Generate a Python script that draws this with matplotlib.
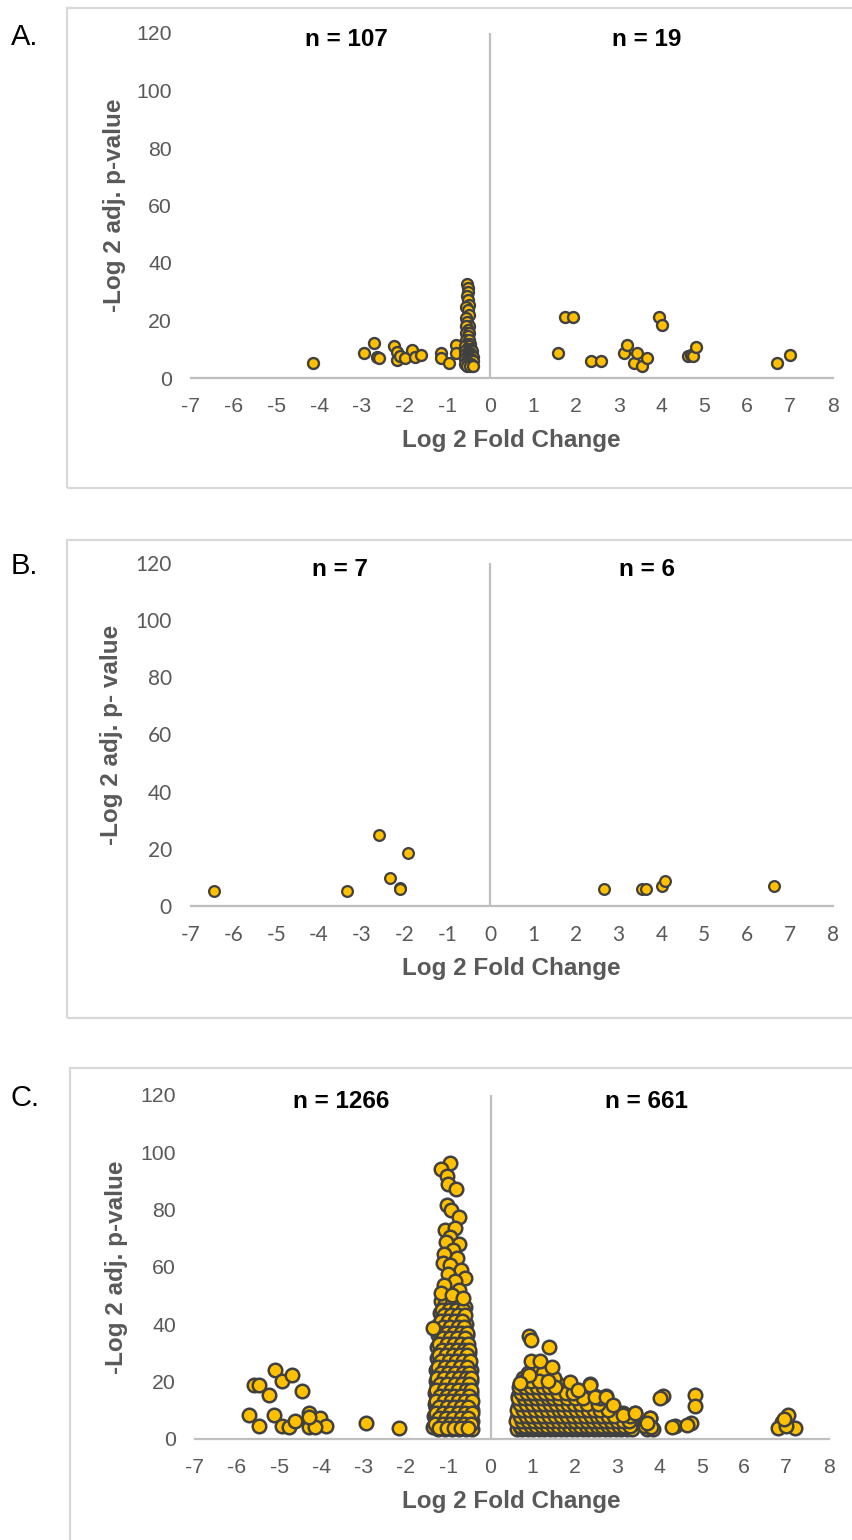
import matplotlib
matplotlib.use('Agg')
import matplotlib.pyplot as plt
from matplotlib.patches import Rectangle

plt.rcParams['font.family'] = ['Liberation Sans', 'DejaVu Sans']
plt.rcParams['axes.unicode_minus'] = False

W, H, DPI = 852, 1540, 100
FILL = '#FFC000'
EDGE = '#404040'
AXC = '#BFBFBF'
TXT = '#595959'
BOX = '#D9D9D9'

x_ticks = list(range(-7, 9))
y_ticks = [0, 20, 40, 60, 80, 100, 120]
x_label = 'Log 2 Fold Change'
y_labels = ['-Log 2 adj. p-value', '-Log 2 adj. p- value', '-Log 2 adj. p-value']
n_labels = [('n = 107', 'n = 19'), ('n = 7', 'n = 6'), ('n = 1266', 'n = 661')]
panel_letters = ['A.', 'B.', 'C.']

# ---------------- Panel A data ----------------
a_neg_scatter = [(-4.15, 5.1), (-2.95, 8.8), (-2.71, 12.3), (-2.65, 7.2), (-2.6, 7.1),
                 (-2.24, 11.2), (-2.18, 9.2), (-2.18, 6.3), (-2.1, 7.5), (-2.0, 7.1),
                 (-1.82, 9.7), (-1.75, 7.2), (-1.61, 7.9), (-1.16, 8.8), (-1.16, 7.0),
                 (-0.97, 5.1), (-0.8, 11.4), (-0.8, 8.8)]
a_col_rows_y = [32.6, 31.2, 29.8, 28.5, 27.0, 25.5, 24.8, 23.5, 22.0, 21.0, 19.4, 18.0,
                16.8, 15.8, 14.5, 13.2, 12.0, 11.0, 10.0, 9.3, 8.8, 8.0, 7.2, 6.5, 5.8,
                5.0, 4.3]
a_col_rows_x = [[-0.55], [-0.53], [-0.51], [-0.55], [-0.52], [-0.5], [-0.57], [-0.53],
                [-0.5], [-0.56], [-0.54], [-0.5, -0.57], [-0.53], [-0.56, -0.5], [-0.53],
                [-0.57, -0.5], [-0.54, -0.47], [-0.58, -0.5], [-0.55, -0.46],
                [-0.58, -0.5, -0.43], [-0.55, -0.47], [-0.58, -0.52, -0.44],
                [-0.55, -0.48, -0.41], [-0.58, -0.51, -0.44], [-0.55, -0.47, -0.41],
                [-0.58, -0.51, -0.44], [-0.55, -0.48, -0.41]]
a_pos = [(1.575, 8.8), (1.75, 21.1), (1.93, 21.1), (2.35, 6.0), (2.59, 6.0), (3.12, 8.8),
         (3.19, 11.5), (3.35, 5.3), (3.43, 8.8), (3.55, 4.2), (3.66, 7.0), (3.95, 21.3),
         (4.02, 18.3), (4.61, 7.8), (4.7, 8.0), (4.74, 7.8), (4.8, 10.7), (6.7, 5.3),
         (7.0, 8.0)]

# ---------------- Panel B data ----------------
b_neg = [(-6.46, 5.2), (-3.35, 5.2), (-2.59, 24.8), (-1.93, 18.7), (-2.35, 9.7),
         (-2.1, 6.2), (-2.12, 6.0)]
b_pos = [(2.65, 5.9), (3.55, 5.9), (3.63, 5.9), (4.01, 7.0), (4.09, 8.9), (6.64, 7.0)]

# ---------------- Panel C data ----------------
c_neg_far = [(-5.6, 18.7), (-5.47, 18.7), (-5.71, 8.2), (-5.47, 4.4), (-5.24, 15.2),
             (-5.1, 24.0), (-4.94, 20.2), (-4.71, 22.2), (-4.45, 16.7), (-5.12, 8.2),
             (-4.94, 4.4), (-4.76, 4.1), (-4.63, 6.2), (-4.29, 9.0), (-4.27, 6.5),
             (-4.29, 3.9), (-4.04, 7.0), (-3.89, 4.4), (-4.15, 4.1), (-4.29, 7.6),
             (-2.95, 5.3), (-2.16, 3.6)]
c_neg_top = [(-0.96, 96.3), (-1.16, 94.2), (-1.04, 91.6), (-1.0, 89.0), (-0.82, 87.2),
             (-1.04, 81.7), (-0.93, 80.0), (-0.74, 77.4), (-1.08, 73.0), (-0.85, 73.5),
             (-0.95, 70.5), (-0.74, 68.0), (-1.05, 68.5), (-0.88, 66.0), (-1.1, 64.5),
             (-0.8, 63.0), (-1.12, 61.3), (-0.95, 60.5), (-0.7, 59.0), (-1.0, 57.5),
             (-0.6, 56.0), (-0.85, 55.0), (-1.1, 53.5), (-0.75, 52.0), (-1.16, 50.8),
             (-0.9, 50.0), (-0.65, 49.0), (-1.35, 38.5)]
c_col_rows_y = [48, 46, 44, 42, 40, 38, 36, 34, 32, 30, 28, 26, 24, 22, 20, 18, 16, 14,
                12, 10, 8, 6, 4, 3.2]
c_col_rows_x = [[-1.18, -1.0, -0.83, -0.68], [-1.1, -0.92, -0.75, -0.6],
                [-1.2, -1.03, -0.86, -0.7], [-1.14, -0.96, -0.78, -0.62],
                [-1.22, -1.05, -0.88, -0.7, -0.58], [-1.15, -0.97, -0.8, -0.63],
                [-1.24, -1.06, -0.89, -0.72, -0.56], [-1.17, -1.0, -0.83, -0.65],
                [-1.26, -1.08, -0.91, -0.74, -0.57], [-1.19, -1.02, -0.85, -0.68, -0.52],
                [-1.27, -1.1, -0.93, -0.76, -0.59], [-1.2, -1.03, -0.86, -0.69, -0.52],
                [-1.28, -1.11, -0.94, -0.77, -0.6, -0.47], [-1.22, -1.05, -0.88, -0.71, -0.54],
                [-1.3, -1.13, -0.96, -0.79, -0.62, -0.46], [-1.23, -1.06, -0.89, -0.72, -0.55],
                [-1.31, -1.14, -0.97, -0.8, -0.63, -0.46], [-1.24, -1.07, -0.9, -0.73, -0.56],
                [-1.32, -1.15, -0.98, -0.81, -0.64, -0.47], [-1.25, -1.08, -0.91, -0.74, -0.57, -0.44],
                [-1.33, -1.16, -0.99, -0.82, -0.65, -0.48], [-1.27, -1.1, -0.93, -0.76, -0.59, -0.44],
                [-1.35, -1.18, -1.01, -0.84, -0.67, -0.5], [-1.25, -1.08, -0.91, -0.74, -0.57, -0.43]]
c_col2_rows_y = [47, 45, 43, 41, 39, 37, 35, 33, 31, 29, 27, 25, 23, 21, 19, 17, 15, 13,
                 11, 9, 7, 5, 3.6]
c_col2_rows_x = [[-1.08, -0.9, -0.73], [-1.15, -0.98, -0.82, -0.66],
                 [-1.1, -0.93, -0.76, -0.61], [-1.18, -1.0, -0.84, -0.67],
                 [-1.12, -0.95, -0.78, -0.62], [-1.2, -1.02, -0.86, -0.69, -0.55],
                 [-1.13, -0.95, -0.79, -0.61], [-1.22, -1.04, -0.87, -0.7, -0.54],
                 [-1.15, -0.97, -0.8, -0.63, -0.5], [-1.23, -1.06, -0.89, -0.72, -0.55],
                 [-1.16, -0.99, -0.82, -0.64, -0.49], [-1.25, -1.07, -0.9, -0.73, -0.56],
                 [-1.18, -1.0, -0.83, -0.66, -0.5], [-1.27, -1.09, -0.92, -0.75, -0.58, -0.45],
                 [-1.19, -1.02, -0.85, -0.68, -0.51], [-1.28, -1.1, -0.93, -0.76, -0.59, -0.45],
                 [-1.2, -1.03, -0.86, -0.69, -0.52], [-1.29, -1.11, -0.94, -0.77, -0.6, -0.44],
                 [-1.21, -1.04, -0.87, -0.7, -0.53], [-1.3, -1.12, -0.95, -0.78, -0.61, -0.44],
                 [-1.22, -1.05, -0.88, -0.71, -0.54], [-1.31, -1.13, -0.96, -0.79, -0.62, -0.45],
                 [-1.21, -1.04, -0.87, -0.7, -0.53]]
c_col3_rows_y = [38.5, 34.5, 30.5, 26.5, 22.5, 18.5, 14.5, 10.5, 6.5, 4.6]
c_col3_rows_x = [[-1.05, -0.92, -0.8, -0.68],
                 [-1.1, -0.98, -0.86, -0.74, -0.6],
                 [-1.2, -1.1, -0.98, -0.86, -0.74, -0.6],
                 [-1.22, -1.1, -0.98, -0.86, -0.74, -0.62, -0.5],
                 [-1.24, -1.12, -1.0, -0.88, -0.76, -0.64, -0.52],
                 [-1.26, -1.14, -1.02, -0.9, -0.78, -0.66, -0.54],
                 [-1.27, -1.15, -1.03, -0.91, -0.79, -0.67, -0.55, -0.46],
                 [-1.28, -1.16, -1.04, -0.92, -0.8, -0.68, -0.56, -0.46],
                 [-1.3, -1.18, -1.06, -0.94, -0.82, -0.7, -0.58, -0.47],
                 [-1.22, -1.1, -0.98, -0.86, -0.74, -0.62, -0.5]]
c_blob_rows_y = [3.3, 5, 7, 9, 11, 13, 15, 17, 19, 21, 23]
c_blob_rows_x = [
    [0.62, 0.75, 0.88, 1.01, 1.14, 1.27, 1.4, 1.53, 1.66, 1.79, 1.92, 2.05, 2.18, 2.31, 2.44,
     2.57, 2.7, 2.83, 2.96, 3.09, 3.22, 3.35, 3.7, 3.85],
    [0.68, 0.82, 0.96, 1.1, 1.24, 1.38, 1.52, 1.66, 1.8, 1.94, 2.08, 2.22, 2.36, 2.5, 2.64,
     2.78, 2.92, 3.06, 3.2, 3.34, 3.66],
    [0.62, 0.76, 0.9, 1.04, 1.18, 1.32, 1.46, 1.6, 1.74, 1.88, 2.02, 2.16, 2.3, 2.44, 2.58,
     2.72, 2.86, 3.0, 3.2, 3.78],
    [0.68, 0.82, 0.96, 1.1, 1.24, 1.38, 1.52, 1.66, 1.8, 1.94, 2.08, 2.22, 2.36, 2.5, 2.64,
     2.8, 3.13, 3.42],
    [0.64, 0.78, 0.92, 1.06, 1.2, 1.34, 1.48, 1.62, 1.76, 1.9, 2.04, 2.18, 2.32, 2.5, 2.65, 2.91],
    [0.7, 0.84, 0.98, 1.12, 1.26, 1.4, 1.54, 1.68, 1.82, 1.96, 2.1, 2.25, 2.42],
    [0.66, 0.8, 0.94, 1.08, 1.22, 1.36, 1.5, 1.64, 1.78, 1.95, 2.1, 2.47, 2.73],
    [0.72, 0.86, 1.0, 1.14, 1.28, 1.42, 1.56, 1.7, 2.08],
    [0.7, 0.84, 0.98, 1.12, 1.26, 1.45, 1.6, 1.88, 2.35],
    [0.78, 0.94, 1.1, 1.3, 1.5],
    [0.88, 1.05, 1.25]]
c_blob2_rows_y = [4.2, 6, 8, 10, 12, 14, 16, 18, 20]
c_blob2_rows_x = [
    [0.69, 0.82, 0.95, 1.08, 1.21, 1.34, 1.47, 1.6, 1.73, 1.86, 1.99, 2.12, 2.25, 2.38, 2.51,
     2.64, 2.77, 2.9, 3.03, 3.16, 3.29],
    [0.61, 0.75, 0.89, 1.03, 1.17, 1.31, 1.45, 1.59, 1.73, 1.87, 2.01, 2.15, 2.29, 2.43, 2.57,
     2.71, 2.85, 2.99, 3.13, 3.27, 3.74],
    [0.69, 0.83, 0.97, 1.11, 1.25, 1.39, 1.53, 1.67, 1.81, 1.95, 2.09, 2.23, 2.37, 2.51, 2.65,
     2.79, 2.93, 3.3],
    [0.63, 0.77, 0.91, 1.05, 1.19, 1.33, 1.47, 1.61, 1.75, 1.89, 2.03, 2.17, 2.31, 2.45, 2.6, 2.78],
    [0.71, 0.85, 0.99, 1.13, 1.27, 1.41, 1.55, 1.69, 1.83, 1.97, 2.11, 2.28, 2.55],
    [0.65, 0.79, 0.93, 1.07, 1.21, 1.35, 1.49, 1.63, 1.8, 2.0, 2.2, 2.6],
    [0.73, 0.87, 1.01, 1.15, 1.29, 1.43, 1.6, 1.78, 1.95],
    [0.68, 0.82, 0.96, 1.1, 1.24, 1.38, 1.52],
    [0.8, 0.97, 1.14, 1.35]]
c_blob3_rows_y = [3.8, 7.5, 11.5, 15.5]
c_blob3_rows_x = [
    [0.72, 0.86, 1.0, 1.14, 1.28, 1.42, 1.56, 1.7, 1.84, 1.98, 2.12, 2.26, 2.4, 2.54, 2.68,
     2.82, 2.96, 3.1],
    [0.66, 0.8, 0.94, 1.08, 1.22, 1.36, 1.5, 1.64, 1.78, 1.92, 2.06, 2.2, 2.34, 2.48, 2.62, 2.76],
    [0.7, 0.84, 0.98, 1.12, 1.26, 1.4, 1.54, 1.68, 1.82, 1.96, 2.1, 2.4],
    [0.76, 0.9, 1.04, 1.18, 1.32, 1.46, 1.64]]
c_pos_far = [(0.92, 35.9), (0.97, 34.5), (1.39, 32.1), (0.97, 26.9), (1.17, 26.9),
             (1.45, 25.1), (0.92, 22.2), (0.7, 19.5), (1.88, 19.9), (2.35, 18.7),
             (2.08, 17.0), (2.47, 14.4), (2.73, 14.4), (2.91, 11.7), (3.13, 8.2),
             (3.42, 9.0), (3.78, 7.3), (3.66, 4.3), (4.08, 14.9), (4.02, 14.2),
             (4.37, 4.4), (4.3, 4.0), (4.84, 15.2), (4.84, 11.4), (4.75, 5.3), (4.65, 4.6),
             (7.05, 8.2), (6.89, 5.9), (6.81, 3.6), (7.2, 3.6), (7.0, 4.5), (6.95, 6.8),
             (3.8, 4.0), (3.7, 5.5)]


def expand_rows(rows_y, rows_x):
    return [(x, y) for y, xs in zip(rows_y, rows_x) for x in xs]


a_points = a_neg_scatter + expand_rows(a_col_rows_y, a_col_rows_x) + a_pos
b_points = b_neg + b_pos
c_points = (c_neg_far + expand_rows(c_col_rows_y, c_col_rows_x)
            + expand_rows(c_col3_rows_y, c_col3_rows_x)
            + expand_rows(c_col2_rows_y, c_col2_rows_x) + c_neg_top
            + expand_rows(c_blob_rows_y, c_blob_rows_x)
            + expand_rows(c_blob3_rows_y, c_blob3_rows_x)
            + expand_rows(c_blob2_rows_y, c_blob2_rows_x) + c_pos_far)

fig = plt.figure(figsize=(W / DPI, H / DPI), dpi=DPI)


def axes_px(left, top, right, bottom):
    return fig.add_axes([left / W, 1 - bottom / H, (right - left) / W, (bottom - top) / H])


def box_px(left, top, right, bottom):
    fig.patches.append(Rectangle((left / W, 1 - bottom / H), (right - left) / W,
                                 (bottom - top) / H, transform=fig.transFigure,
                                 fill=False, edgecolor=BOX, linewidth=1.6, clip_on=False))


box_px(67, 7.5, 880, 488)
box_px(67, 539.5, 880, 1018)
box_px(70, 1068, 880, 1560)

panels = [
    dict(rect=(190.7, 33, 832.7, 378), pts=a_points, s=62, lw=1.7, tickfont='Liberation Sans',
         ticksize=15.3, nx=(-3.35, 3.65), ylab_off=-76, letter_y=37),
    dict(rect=(190.7, 563, 832.7, 906), pts=b_points, s=60, lw=1.6, tickfont='Lato',
         ticksize=15, nx=(-3.5, 3.65), ylab_off=-79, letter_y=566),
    dict(rect=(194.75, 1095, 828.5, 1438.5), pts=c_points, s=95, lw=1.8, tickfont='Liberation Sans',
         ticksize=15.3, nx=(-3.54, 3.68), ylab_off=-78, letter_y=1098),
]

for i, p in enumerate(panels):
    ax = axes_px(*p['rect'])
    ax.set_xlim(-7, 8)
    ax.set_ylim(0, 120)
    for side in ['top', 'right', 'left']:
        ax.spines[side].set_visible(False)
    ax.spines['bottom'].set_color(AXC)
    ax.spines['bottom'].set_linewidth(1.6)
    ax.axvline(0, color=AXC, linewidth=1.6, zorder=1)
    ax.set_xticks(x_ticks)
    ax.set_yticks(y_ticks)
    ax.tick_params(axis='both', length=0, labelsize=p['ticksize'], labelcolor=TXT)
    ax.tick_params(axis='x', pad=14)
    ax.tick_params(axis='y', pad=13.5)
    for lab in ax.get_xticklabels() + ax.get_yticklabels():
        lab.set_family([p['tickfont'], 'DejaVu Sans'])
    xs = [q[0] for q in p['pts']]
    ys = [q[1] for q in p['pts']]
    ax.scatter(xs, ys, s=p['s'], c=FILL, edgecolors=EDGE, linewidths=p['lw'],
               zorder=3, clip_on=False)
    ax.annotate(x_label, xy=(0.5, 0), xycoords='axes fraction', xytext=(0, -63),
                textcoords='offset pixels', ha='center', va='center', fontsize=17.5,
                fontweight='bold', color=TXT)
    ax.annotate(y_labels[i], xy=(0, 0.5), xycoords='axes fraction', xytext=(p['ylab_off'], 0),
                textcoords='offset pixels', ha='center', va='center', rotation=90,
                fontsize=17.5, fontweight='bold', color=TXT)
    ax.text(p['nx'][0], 117.6, n_labels[i][0], ha='center', va='center', fontsize=17.5,
            fontweight='bold', color='black')
    ax.text(p['nx'][1], 117.6, n_labels[i][1], ha='center', va='center', fontsize=17.5,
            fontweight='bold', color='black')
    fig.text(11 / W, 1 - p['letter_y'] / H, panel_letters[i], ha='left', va='center',
             fontsize=21, color='black')

fig.savefig('out.png', dpi=DPI)
